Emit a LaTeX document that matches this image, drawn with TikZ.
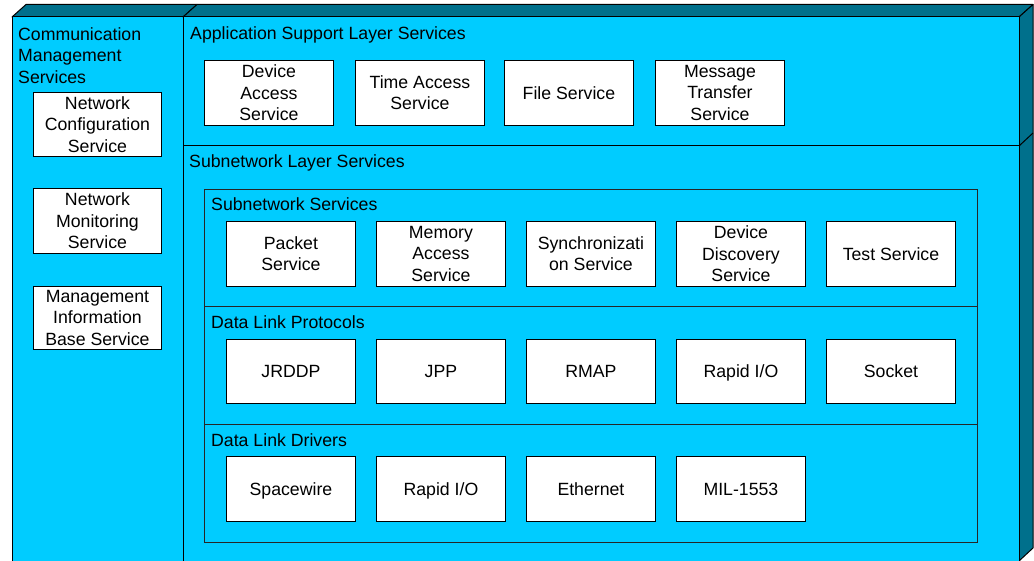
\documentclass[tikz,border=0pt]{standalone}
\usepackage{fontspec}
\setmainfont{Liberation Sans}
\definecolor{cyanf}{RGB}{0,204,255}
\definecolor{tealf}{RGB}{0,112,140}
\begin{document}
\begin{tikzpicture}[x=1pt,y=-1pt,
  font=\fontsize{17.7}{21.3}\selectfont,
  face/.style={fill=cyanf, draw=black, line width=1pt},
  darkface/.style={fill=tealf, draw=black, line width=1pt, line join=round},
  svc/.style={draw=black, line width=0.9pt, fill=white, minimum width=129pt,
    minimum height=65pt, inner sep=0pt, align=center, anchor=north west},
  one/.style={svc, text height=12.7pt, text depth=0pt},
  lsvc/.style={svc, minimum width=128pt},
  cont/.style={draw=black!85, line width=1pt, inner sep=0pt, anchor=north west},
  title/.style={anchor=base west, inner sep=0pt}]
\useasboundingbox (0,0) rectangle (1034,561);
% ---- left 3D box
\path[darkface] (12,17) -- (26,4.5) -- (197,4.5) -- (183,17) -- cycle;
\path[face] (12,17) rectangle (183,562);
% ---- right 3D box (two stacked)
\path[darkface] (183,17) -- (197,4.5) -- (1033,4.5) -- (1019,17) -- cycle;
\path[darkface] (1019,17) -- (1033,4.5) -- (1033,548) -- (1019,561) -- cycle;
\draw[line width=1pt] (1019,146) -- (1033,133);
\path[face] (183,17) rectangle (1019,146);
\path[face] (183,146) rectangle (1019,562);
% ---- titles
\node[anchor=north west, inner sep=0pt, align=left] (cms) at (18,27.4)
  {Communication\\Management\\Services};
\node[title] (asl) at (190,40) {Application Support Layer Services};
\node[title] (sls) at (189,168) {Subnetwork Layer Services};
% ---- subnetwork container
\node[cont, minimum width=773pt, minimum height=353pt] (sub) at (204,189) {};
\coordinate (d1l) at (204,306.5); \coordinate (d1r) at (977,306.5);
\coordinate (d2l) at (204,424);   \coordinate (d2r) at (977,424);
\draw[draw=black!85, line width=1pt] (d1l) -- (d1r);
\draw[draw=black!85, line width=1pt] (d2l) -- (d2r);
\node[title] (ss) at (211,211) {Subnetwork Services};
\node[title] (dlp) at (211,329) {Data Link Protocols};
\node[title] (dld) at (211,446.5) {Data Link Drivers};
% ---- application support services
\node[svc] (das) at (204,60) {Device\\Access\\Service};
\node[svc] (tas) at (355,60) {Time Access\\Service};
\node[one] (fs)  at (504,60) {File Service};
\node[svc] (mts) at (655,60) {Message\\Transfer\\Service};
% ---- subnetwork services
\node[svc] (ps)  at (226,221) {Packet\\Service};
\node[svc] (mas) at (376,221) {Memory\\Access\\Service};
\node[svc] (sys) at (526,221) {Synchronizati\\on Service};
\node[svc] (dds) at (676,221) {Device\\Discovery\\Service};
\node[one] (ts)  at (826,221) {Test Service};
% ---- data link protocols
\node[one, minimum height=64pt] (jrddp) at (226,339) {JRDDP};
\node[one, minimum height=64pt] (jpp)   at (376,339) {JPP};
\node[one, minimum height=64pt] (rmap)  at (526,339) {RMAP};
\node[one, minimum height=64pt] (rio)   at (676,339) {Rapid I/O};
\node[one, minimum height=64pt] (sock)  at (826,339) {Socket};
% ---- data link drivers
\node[one] (spw) at (226,456) {Spacewire};
\node[one] (rio2) at (376,456) {Rapid I/O};
\node[one] (eth) at (526,456) {Ethernet};
\node[one] (mil) at (676,456) {MIL-1553};
% ---- communication management services
\node[lsvc, minimum height=64pt] (ncs) at (33,92) {Network\\Configuration\\Service};
\node[lsvc, minimum height=65pt] (nms) at (33,188) {Network\\Monitoring\\Service};
\node[lsvc, minimum height=63pt] (mib) at (33,286) {Management\\Information\\Base Service};
\end{tikzpicture}
\end{document}
